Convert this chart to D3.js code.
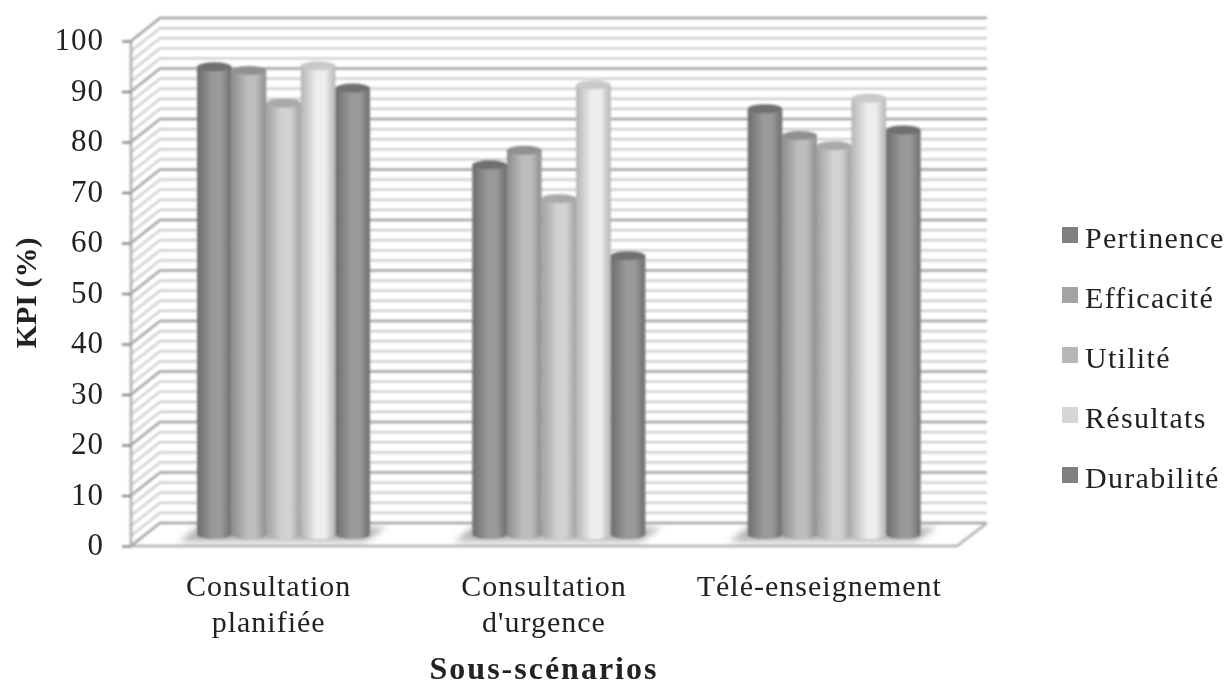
<!DOCTYPE html>
<html>
<head>
<meta charset="utf-8">
<script src="https://cdn.jsdelivr.net/npm/d3@7"></script>
<style>
  html, body { margin: 0; padding: 0; background: #fff; }
  text { font-family: "Liberation Serif", serif; fill: #222; }
</style>
</head>
<body>
<svg id="chart" width="1227" height="687"></svg>
<script>
const categories = ["Consultation planifiée", "Consultation d'urgence", "Télé-enseignement"];
const categoryLines = [["Consultation", "planifiée"], ["Consultation", "d'urgence"], ["Télé-enseignement"]];
const seriesNames = ["Pertinence", "Efficacité", "Utilité", "Résultats", "Durabilité"];
const pertinence = [92.6, 73.2, 84.3];
const efficacite = [91.9, 76.1, 79];
const utilite = [85.4, 66.5, 77];
const resultats = [92.8, 89, 86.4];
const durabilite = [88.4, 55.2, 80.1];
const seriesValues = [pertinence, efficacite, utilite, resultats, durabilite];
const yTicks = d3.range(0, 101, 10);
const minorTicks = d3.range(0, 101, 2);

const edgeColors = ["#6c6c6c", "#8c8c8c", "#a0a0a0", "#b4b4b4", "#6c6c6c"];
const midColors = ["#9a9a9a", "#bdbdbd", "#d2d2d2", "#eeeeee", "#9a9a9a"];
const capColors = ["#707070", "#909090", "#a9a9a9", "#c9c9c9", "#707070"];
const legendColors = ["#808080", "#a3a3a3", "#b6b6b6", "#d6d6d6", "#808080"];

const left = 131, right = 957, depthX = 29, depthY = 23;

const svg = d3.select("#chart");
const defs = svg.append("defs");

defs.append("filter").attr("id", "soft").append("feGaussianBlur").attr("stdDeviation", 0.8);
defs.append("filter").attr("id", "softText").append("feGaussianBlur").attr("stdDeviation", 0.35);
defs.append("filter").attr("id", "shadowBlur")
  .attr("x", "-20%").attr("y", "-50%").attr("width", "140%").attr("height", "200%")
  .append("feGaussianBlur").attr("stdDeviation", 3);

seriesNames.forEach((name, i) => {
  const g = defs.append("linearGradient").attr("id", "cyl" + i);
  g.append("stop").attr("offset", "0%").attr("stop-color", edgeColors[i]);
  g.append("stop").attr("offset", "45%").attr("stop-color", midColors[i]);
  g.append("stop").attr("offset", "70%").attr("stop-color", midColors[i]);
  g.append("stop").attr("offset", "100%").attr("stop-color", edgeColors[i]);
});

const y = d3.scaleLinear().domain([0, 100]).range([546, 41]);
const x0 = d3.scaleBand().domain(categories).range([left + 15, right + 15]);
const x1 = d3.scaleBand().domain(seriesNames).range([51, 224]);
// labels sit on the front edge of the floor
const xFront = d3.scaleBand().domain(categories).range([left, right]);

const plot = svg.append("g").attr("filter", "url(#soft)");

// back wall and side wall lines
const grid = plot.append("g");
minorTicks.forEach(t => {
  const major = t % 10 == 0;
  const yy = y(t);
  grid.append("path")
    .attr("d", `M${left},${yy}L${left + depthX},${yy - depthY}L${right + depthX + 1},${yy - depthY}`)
    .attr("fill", "none")
    .attr("stroke", major ? "#a2a2a2" : "#cbcbcb")
    .attr("stroke-width", major ? 2.4 : 2.2);
});

// floor edges and value axis
plot.append("path")
  .attr("d", `M${left},${y(0)}L${right},${y(0)}L${right + depthX + 1},${y(0) - depthY}`)
  .attr("fill", "none").attr("stroke", "#b0b0b0").attr("stroke-width", 2.6);
plot.append("path")
  .attr("d", `M${left},${y(0)}L${left},${y(100)}`)
  .attr("fill", "none").attr("stroke", "#b0b0b0").attr("stroke-width", 2.6);

// y axis ticks
plot.append("g").attr("transform", `translate(${left},0)`)
  .call(d3.axisLeft(y).tickValues(yTicks).tickSize(9).tickFormat(""))
  .call(g => g.select(".domain").remove())
  .call(g => g.selectAll("line").attr("stroke", "#7d7d7d").attr("stroke-width", 2.2));

// bars
const barBase = 534.5, ry = 4.5;
const bars = plot.append("g");
categories.forEach((cat, c) => {
  const gx = x0(cat);
  const xL = gx + x1(seriesNames[0]), xR = gx + x1(seriesNames[4]) + x1.bandwidth();
  bars.append("path")
    .attr("d", `M${xL - 18},${barBase + 7}L${xR - 5},${barBase + 7}L${xR + 16},${barBase - 7}L${xL},${barBase - 7}Z`)
    .attr("fill", "#b4b4b4")
    .attr("filter", "url(#shadowBlur)");
  seriesNames.forEach((name, s) => {
    const bx = gx + x1(name);
    const bw = x1.bandwidth();
    const top = barBase - (y(0) - y(seriesValues[s][c]));
    bars.append("path")
      .attr("d", `M${bx},${top}L${bx},${barBase}A${bw / 2},${ry} 0 0 0 ${bx + bw},${barBase}L${bx + bw},${top}Z`)
      .attr("fill", `url(#cyl${s})`);
    bars.append("ellipse")
      .attr("cx", bx + bw / 2).attr("cy", top)
      .attr("rx", bw / 2).attr("ry", ry)
      .attr("fill", capColors[s]);
  });
});

const labels = svg.append("g").attr("filter", "url(#softText)");

// y labels
labels.append("g").selectAll("text").data(yTicks).join("text")
  .attr("x", 104).attr("y", d => y(d) + 9)
  .attr("text-anchor", "end")
  .style("font-size", "31px")
  .style("letter-spacing", "1px")
  .text(d => d);

// category labels
categories.forEach((cat, c) => {
  const cx = xFront(cat) + xFront.bandwidth() / 2;
  categoryLines[c].forEach((line, i) => {
    labels.append("text")
      .attr("x", cx).attr("y", 596 + i * 36)
      .attr("text-anchor", "middle")
      .style("font-size", "30px")
      .style("letter-spacing", "1px")
      .text(line);
  });
});

// axis titles
labels.append("text")
  .attr("x", 544).attr("y", 679)
  .attr("text-anchor", "middle")
  .style("font-size", "32px").style("font-weight", "bold")
  .style("letter-spacing", "2px")
  .text("Sous-scénarios");
labels.append("text")
  .attr("transform", "translate(36,293) rotate(-90)")
  .attr("text-anchor", "middle")
  .style("font-size", "30px").style("font-weight", "bold")
  .text("KPI (%)");

// legend
const legendY = d3.scalePoint().domain(seriesNames).range([235, 475]);
seriesNames.forEach((name, i) => {
  labels.append("rect")
    .attr("x", 1062).attr("y", legendY(name) - 8)
    .attr("width", 16).attr("height", 16)
    .attr("fill", legendColors[i]);
  labels.append("text")
    .attr("x", 1085).attr("y", legendY(name) + 13)
    .style("font-size", "30px")
    .style("letter-spacing", "1.3px")
    .text(name);
});
</script>
</body>
</html>
